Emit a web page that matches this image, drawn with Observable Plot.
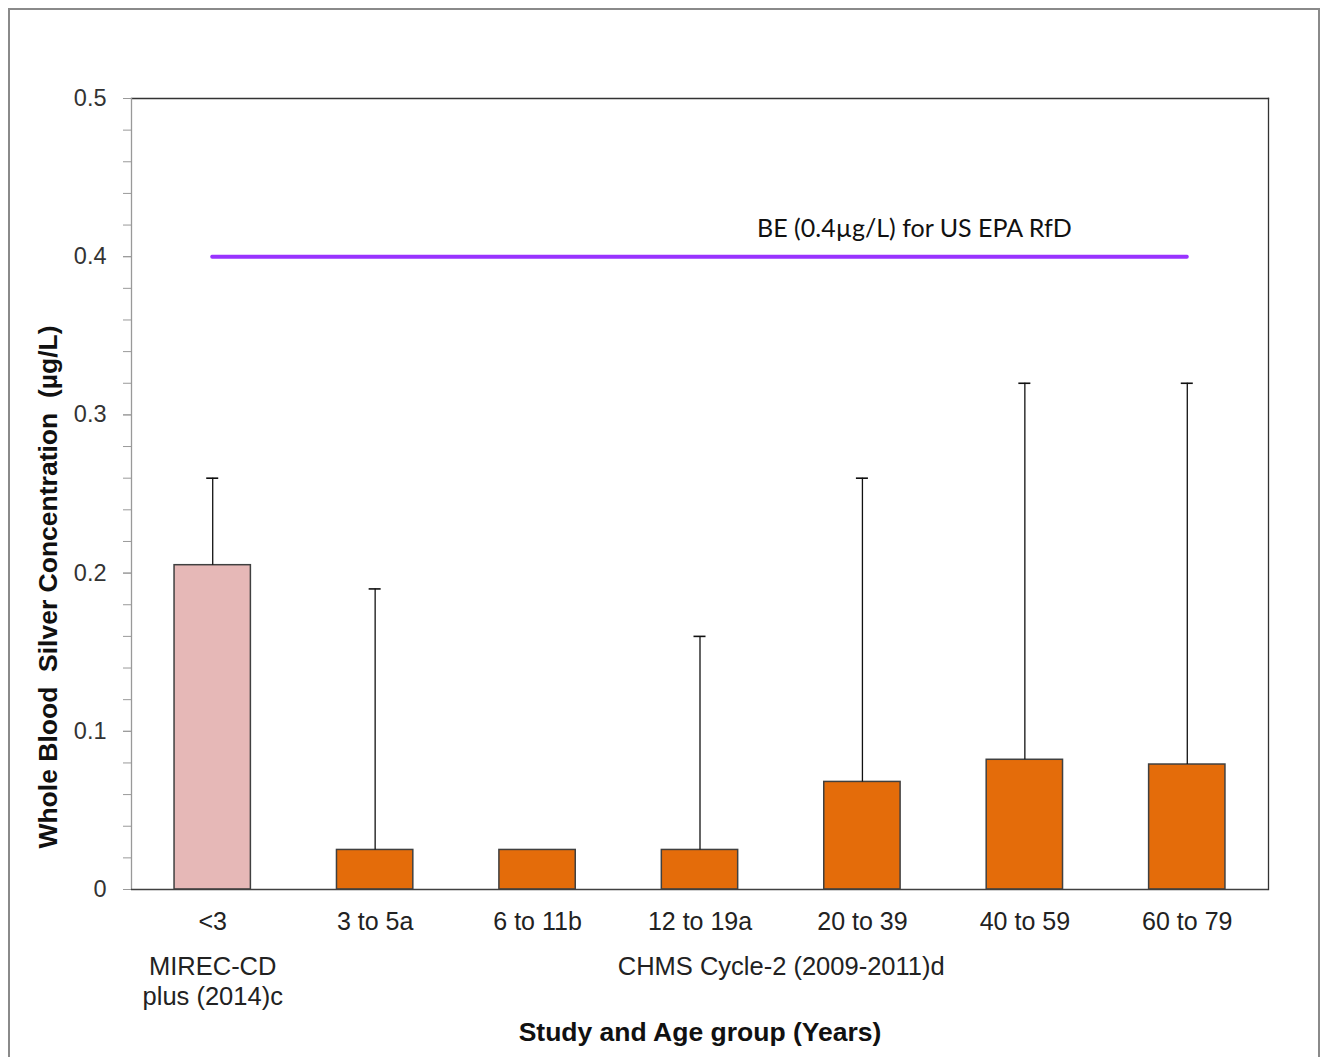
<!DOCTYPE html>
<html>
<head>
<meta charset="utf-8">
<script src="https://cdn.jsdelivr.net/npm/d3@7"></script>
<script src="https://cdn.jsdelivr.net/npm/@observablehq/plot@0.6"></script>
<style>
  html, body { margin: 0; padding: 0; background: #fff; }
  #wrap { position: relative; width: 1321px; height: 1057px; overflow: hidden; }
  #border { position: absolute; left: 8px; top: 8px; width: 1312px; height: 1100px; border: 2.5px solid #8a8a8a; box-sizing: border-box; pointer-events: none; }
  #chart { position: absolute; left: 0; top: 0; }
</style>
</head>
<body>
<div id="wrap"><div id="chart"></div><div id="border"></div></div>
<script>
const categories = ["<3", "3 to 5a", "6 to 11b", "12 to 19a", "20 to 39", "40 to 59", "60 to 79"];
const study = ["MIREC", "CHMS", "CHMS", "CHMS", "CHMS", "CHMS", "CHMS"];
const means = [0.205, 0.025, 0.025, 0.025, 0.068, 0.082, 0.079];
const upper = [0.26, 0.19, null, 0.16, 0.26, 0.32, 0.32];
const studyNames = ["MIREC", "CHMS"];
const studyLabels = ["MIREC-CD\nplus (2014)c", "CHMS Cycle-2 (2009-2011)d"];
const studyColors = ["#e6b8b7", "#e46c0a"];
const refValue = 0.4;
const refLabel = "BE (0.4µg/L) for US EPA RfD";
const refLabelPos = 4.32; // category-index position of label centre
const yTitle = "Whole Blood  Silver Concentration  (µg/L)";
const xTitle = "Study and Age group (Years)";

const rows = categories.map((c, i) => ({i, cat: c, study: study[i], mean: means[i], upper: upper[i]}));
const errRows = rows.filter(d => d.upper != null);
const groups = studyNames.map((s, k) => {
  const idx = rows.filter(d => d.study === s).map(d => d.i);
  return {label: studyLabels[k], x: d3.mean(idx)};
});
const half = 0.235, cap = 0.037;
const font = "Liberation Sans, Arial, sans-serif";

const chart = Plot.plot({
  width: 1321,
  height: 1057,
  marginLeft: 131,
  marginRight: 53,
  marginTop: 98,
  marginBottom: 168,
  style: {fontFamily: font, fontSize: "24px", background: "white"},
  x: {type: "linear", domain: [-0.5, categories.length - 0.5]},
  y: {domain: [0, 0.5]},
  color: {domain: studyNames, range: studyColors},
  marks: [
    Plot.frame({anchor: "top", stroke: "#333", strokeWidth: 1.3}),
    Plot.frame({anchor: "right", stroke: "#333", strokeWidth: 1.3}),
    Plot.axisY({ticks: d3.range(0, 0.5001, 0.02), tickSize: 8, tickFormat: () => "", stroke: "#999", label: null}),
    Plot.axisY({ticks: d3.range(0, 0.5001, 0.1), tickSize: 8, tickPadding: 17, tickFormat: d => String(+d.toFixed(1)), stroke: "#999", fill: "#333", fontSize: 23.5, label: null}),
    Plot.ruleX([0], {x: () => -0.5, stroke: "#999", strokeWidth: 1.3}),
    Plot.axisX({ticks: d3.range(categories.length), tickFormat: i => categories[i], tickSize: 0, tickPadding: 23, fill: "#222", fontSize: 25, label: null}),
    Plot.rectY(rows, {x1: d => d.i - half, x2: d => d.i + half, y1: 0, y2: "mean", fill: "study", stroke: "#404040", strokeWidth: 1.5}),
    Plot.ruleX(errRows, {x: "i", y1: "mean", y2: "upper", stroke: "#111", strokeWidth: 1.3}),
    Plot.ruleY(errRows, {y: "upper", x1: d => d.i - cap, x2: d => d.i + cap, stroke: "#111", strokeWidth: 1.6}),
    Plot.ruleY([0], {stroke: "#404040", strokeWidth: 1.5}),
    Plot.ruleY([refValue], {x1: 0, x2: categories.length - 1, stroke: "#9933ff", strokeWidth: 4, strokeLinecap: "round"}),
    Plot.text([refLabel], {x: () => refLabelPos, y: () => refValue, text: d => d, dy: -28, fontFamily: "Lato, Open Sans, sans-serif", fontSize: 25, fill: "#111"}),
    Plot.text(groups, {x: "x", y: () => 0, text: "label", dy: 64, lineAnchor: "top", lineHeight: 1.18, fontSize: 25.5, fill: "#222"}),
    Plot.text([xTitle], {frameAnchor: "bottom", text: d => d, dy: 143, lineAnchor: "middle", fontSize: 26.5, fontWeight: "bold", fill: "#111"}),
    Plot.text([yTitle], {frameAnchor: "left", text: d => d, rotate: -90, textAnchor: "middle", lineAnchor: "middle", dx: -83, dy: 93, fontSize: 26.5, fontWeight: "bold", fill: "#111"})
  ]
});
document.getElementById("chart").appendChild(chart);
</script>
</body>
</html>
